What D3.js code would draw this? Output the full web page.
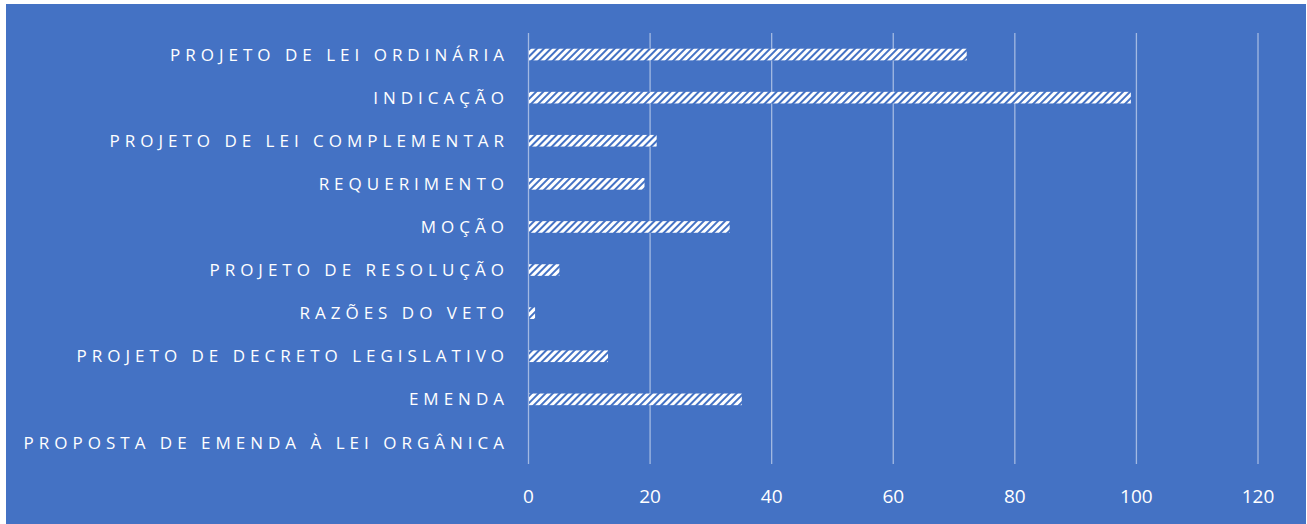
<!DOCTYPE html>
<html>
<head>
<meta charset="utf-8">
<script src="https://cdn.jsdelivr.net/npm/d3@7"></script>
<style>
  body { margin: 0; background: #fff; }
  text { font-family: "Open Sans", sans-serif; fill: #fff; }
</style>
</head>
<body>
<script>
// Chart data
const categories = [
    "PROJETO DE LEI ORDINÁRIA",
    "INDICAÇÃO",
    "PROJETO DE LEI COMPLEMENTAR",
    "REQUERIMENTO",
    "MOÇÃO",
    "PROJETO DE RESOLUÇÃO",
    "RAZÕES DO VETO",
    "PROJETO DE DECRETO LEGISLATIVO",
    "EMENDA",
    "PROPOSTA DE EMENDA À LEI ORGÂNICA"
];
const values = [72, 99, 21, 19, 33, 5, 1, 13, 35, 0];
const xTicks = [0, 20, 40, 60, 80, 100, 120];

const width = 1307;
const height = 524;
const margin = { top: 33, right: 49, bottom: 60, left: 528.5 };

const svg = d3.select("body").append("svg")
    .attr("width", width)
    .attr("height", height);

// blue panel
svg.append("rect")
    .attr("x", 6).attr("y", 4)
    .attr("width", 1300).attr("height", 520)
    .attr("fill", "#4472C4");

// hatch pattern for the bars
const pat = svg.append("defs").append("pattern")
    .attr("id", "hatch")
    .attr("patternUnits", "userSpaceOnUse")
    .attr("width", 5).attr("height", 5)
    .attr("patternTransform", "rotate(45)");
pat.append("rect").attr("width", 5).attr("height", 5).attr("fill", "#4472C4");
pat.append("rect").attr("width", 3).attr("height", 5).attr("fill", "#fff");

const x = d3.scaleLinear()
    .domain([0, 120])
    .range([margin.left, width - margin.right]);

const y = d3.scaleBand()
    .domain(categories)
    .range([margin.top, height - margin.bottom])
    .paddingInner(0.73)
    .paddingOuter(0.365);

// gridlines
svg.append("g")
    .selectAll("line")
    .data(xTicks)
    .join("line")
    .attr("x1", d => x(d)).attr("x2", d => x(d))
    .attr("y1", margin.top).attr("y2", height - margin.bottom)
    .attr("stroke", "#a3b9e2")
    .attr("stroke-width", 1.3);

// bars
svg.append("g")
    .selectAll("rect")
    .data(values)
    .join("rect")
    .attr("x", x(0) + 0.5)
    .attr("y", (d, i) => y(categories[i]))
    .attr("width", d => Math.max(0, x(d) - x(0)))
    .attr("height", y.bandwidth())
    .attr("fill", "url(#hatch)");

// category labels
svg.append("g")
    .selectAll("text")
    .data(categories)
    .join("text")
    .attr("x", 504 + 5)
    .attr("y", d => y(d) + y.bandwidth() / 2)
    .attr("dy", "0.36em")
    .attr("text-anchor", "end")
    .attr("font-size", 17)
    .attr("letter-spacing", "5px")
    .text(d => d);

// x tick labels
svg.append("g")
    .selectAll("text")
    .data(xTicks)
    .join("text")
    .attr("x", d => x(d))
    .attr("y", 503)
    .attr("text-anchor", "middle")
    .attr("font-size", 19)
    .text(d => d);
</script>
</body>
</html>
